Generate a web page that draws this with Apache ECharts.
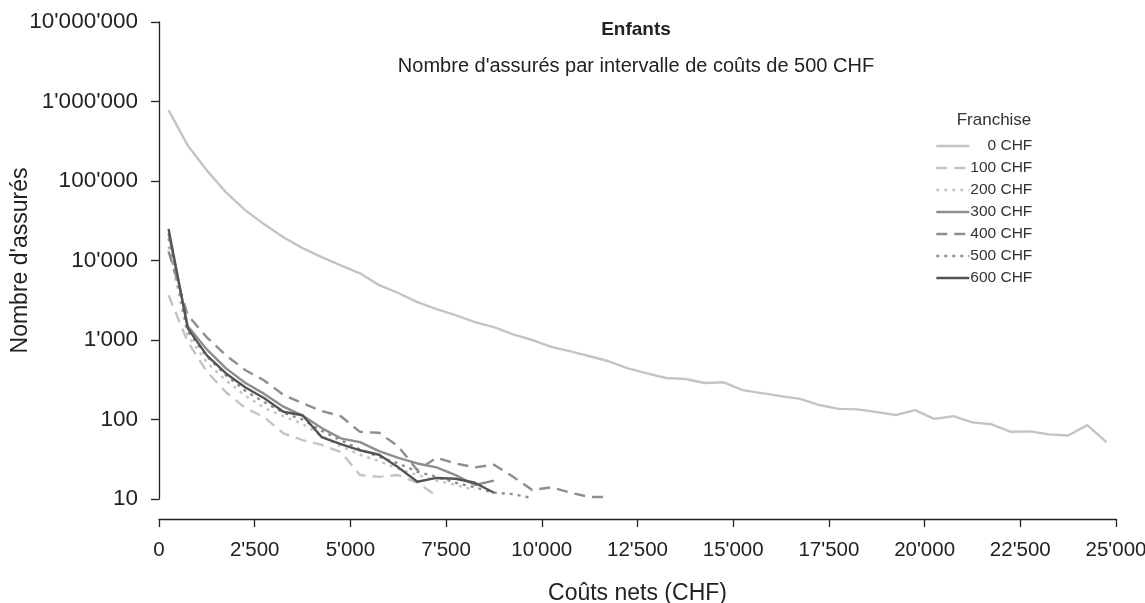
<!DOCTYPE html>
<html>
<head>
<meta charset="utf-8">
<script src="https://cdn.jsdelivr.net/npm/echarts@6/dist/echarts.min.js"></script>
<style>
  html, body { margin: 0; padding: 0; background: #fff; }
  #chart1 { width: 1145px; height: 603px; }
</style>
</head>
<body>
<div id="chart1"></div>
<script>
// middle of each 500 CHF cost interval
var couts = [250, 750, 1250, 1750, 2250, 2750, 3250, 3750, 4250, 4750,
	5250, 5750, 6250, 6750, 7250, 7750, 8250, 8750, 9250, 9750,
	10250, 10750, 11250, 11750, 12250, 12750, 13250, 13750, 14250, 14750,
	15250, 15750, 16250, 16750, 17250, 17750, 18250, 18750, 19250, 19750,
	20250, 20750, 21250, 21750, 22250, 22750, 23250, 23750, 24250, 24750];

var franchises = ['0 CHF', '100 CHF', '200 CHF', '300 CHF', '400 CHF', '500 CHF', '600 CHF'];

var f0 = [780000, 280000, 136000, 72000, 43000, 28500, 19600, 14300, 11000, 8700,
	6900, 4900, 3900, 3000, 2450, 2050, 1680, 1450, 1180, 1000,
	820, 720, 625, 540, 440, 380, 333, 323, 288, 294,
	234, 215, 197, 182, 152, 136, 134, 124, 114, 131,
	102, 110, 92, 87, 70, 71, 65, 63, 85, 52];
var f100 = [3650, 950, 400, 220, 140, 107, 67, 55, 48, 39, 20, 19, 20, 16, 11];
var f200 = [15000, 1150, 520, 310, 200, 140, 110, 88, 62, 46, 36, 30, 24, 20, 17, 15, 13];
var f300 = [22000, 1500, 760, 440, 290, 210, 145, 112, 78, 58, 52, 40, 33, 28, 25, 20, 15, 17];
var f400 = [13000, 2050, 1080, 640, 420, 310, 204, 160, 128, 110, 70, 68, 46, 23, 33, 28, 25, 27,
	19, 13, 14, 12, 10.6, 10.6];
var f500 = [19000, 1300, 620, 360, 230, 165, 122, 100, 72, 55, 42, 34, 28, 22, 19, 16, 14, 12, 11.5, 10.3];
var f600 = [25000, 1400, 640, 380, 255, 185, 125, 113, 60, 49, 41, 36, 25, 16.5, 18.4, 18, 16, 12];

var clair = '#c4c4c4', moyen = '#8e8e8e', fonce = '#545454';

function apos(v) {
	return String(Math.round(v)).replace(/\B(?=(\d{3})+(?!\d))/g, "'");
}

function paires(vals) {
	var out = [];
	for (var i = 0; i < vals.length; i++) {
		out.push([couts[i], vals[i]]);
	}
	return out;
}

function serie(name, vals, color, type) {
	return {
		name: name,
		type: 'line',
		symbol: 'none',
		showSymbol: false,
		silent: true,
		data: paires(vals),
		lineStyle: { color: color, width: 2.4, type: type },
		itemStyle: { color: color }
	};
}

function chart1() {
	var myChart = echarts.init(document.getElementById('chart1'));
	var police = 'Liberation Sans, Arial, sans-serif';
	var option = {
		animation: false,
		textStyle: { fontFamily: police },
		title: [
			{
				text: 'Enfants',
				left: 631, top: 15, textAlign: 'center',
				textStyle: { fontSize: 19, fontWeight: 'bold', color: '#222', fontFamily: police }
			},
			{
				text: "Nombre d'assurés par intervalle de coûts de 500 CHF",
				left: 631, top: 51, textAlign: 'center',
				textStyle: { fontSize: 20, fontWeight: 'normal', color: '#222', fontFamily: police }
			},
			{
				text: 'Franchise',
				left: 989, top: 107, textAlign: 'center',
				textStyle: { fontSize: 17, fontWeight: 'normal', color: '#333', fontFamily: police }
			}
		],
		legend: {
			orient: 'vertical',
			left: 930, top: 133,
			itemWidth: 33, itemHeight: 14, itemGap: 6,
			data: franchises,
			selectedMode: false,
			itemStyle: { opacity: 0 },
			lineStyle: { width: 2.6 },
			formatter: function (n) { return '{a|' + n + '}'; },
			textStyle: {
				color: '#333', fontSize: 16, fontFamily: police,
				rich: { a: { width: 58, align: 'right', fontSize: 15.5, fontFamily: police, color: '#333' } }
			}
		},
		grid: { left: 159, right: 29, top: 22, bottom: 104, containLabel: false, outerBoundsMode: 'none' },
		xAxis: {
			type: 'value',
			min: 0, max: 25000, interval: 2500,
			offset: 20,
			name: 'Coûts nets (CHF)',
			nameLocation: 'middle', nameGap: 63,
			nameTextStyle: { fontSize: 23, color: '#222', fontFamily: police },
			axisLine: { show: true, lineStyle: { color: '#222', width: 1.3 } },
			axisTick: { show: true, length: 8, lineStyle: { color: '#222', width: 1.3 } },
			axisLabel: { fontSize: 20.5, color: '#222', margin: 21, fontFamily: police, formatter: apos },
			splitLine: { show: false }
		},
		yAxis: {
			type: 'log', logBase: 10,
			min: 10, max: 10000000, interval: 1,
			offset: 9,
			name: "Nombre d'assurés",
			nameLocation: 'middle', nameGap: 118,
			nameMoveOverlap: false,
			nameTextStyle: { fontSize: 23, color: '#222', fontFamily: police },
			axisLine: { show: true, lineStyle: { color: '#222', width: 1.3 } },
			axisTick: { show: true, length: 8, lineStyle: { color: '#222', width: 1.3 } },
			axisLabel: { fontSize: 22.5, color: '#222', margin: 12, fontFamily: police, formatter: apos },
			splitLine: { show: false }
		},
		series: [
			serie('0 CHF', f0, clair, 'solid'),
			serie('100 CHF', f100, clair, [11, 7]),
			serie('200 CHF', f200, clair, [3, 5]),
			serie('300 CHF', f300, moyen, 'solid'),
			serie('400 CHF', f400, moyen, [11, 7]),
			serie('500 CHF', f500, moyen, [3, 5]),
			serie('600 CHF', f600, fonce, 'solid')
		]
	};
	myChart.setOption(option);
	window.addEventListener("resize", function () {
		myChart.resize();
	});
}

chart1();
</script>
</body>
</html>
